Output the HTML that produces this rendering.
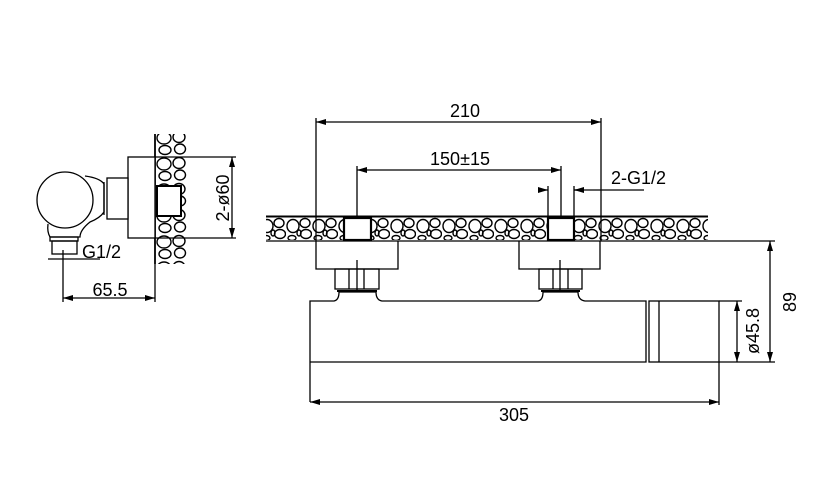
<!DOCTYPE html>
<html><head><meta charset="utf-8"><style>
html,body{margin:0;padding:0;background:#fff;}
svg{display:block;}
text{font-family:"Liberation Sans",sans-serif;font-size:18px;fill:#000;}
</style></head><body>
<svg width="820" height="499" viewBox="0 0 820 499" xmlns="http://www.w3.org/2000/svg">
<defs>
<pattern id="peb" x="0" y="217" width="26" height="23" patternUnits="userSpaceOnUse">
<rect width="26" height="23" fill="#fff"/>
<g fill="none" stroke="#000" stroke-width="1.4">
<ellipse cx="7" cy="9" rx="6" ry="6.5"/>
<ellipse cx="19" cy="6" rx="5" ry="4.5"/>
<ellipse cx="20" cy="17" rx="5.5" ry="4.5"/>
<ellipse cx="6" cy="21" rx="4" ry="2.5"/>
<ellipse cx="13" cy="16" rx="2" ry="3"/>
</g>
</pattern>
<pattern id="peb2" x="155" y="0" width="33" height="26" patternUnits="userSpaceOnUse">
<rect width="33" height="26" fill="#fff"/>
<g fill="none" stroke="#000" stroke-width="1.4">
<ellipse cx="9" cy="8" rx="7" ry="6"/>
<ellipse cx="24" cy="7" rx="6" ry="5.5"/>
<ellipse cx="10" cy="20" rx="6" ry="4.5"/>
<ellipse cx="25" cy="19" rx="5.5" ry="5"/>
</g>
</pattern>
<marker id="a" viewBox="0 0 10 6" refX="10" refY="3" markerWidth="10" markerHeight="6" orient="auto-start-reverse" markerUnits="userSpaceOnUse">
<path d="M0,0 L10,3 L0,6 Z" fill="#000"/>
</marker>
</defs>
<g stroke="#000" stroke-width="1.3" fill="none">
<rect x="266" y="217" width="442" height="23" fill="url(#peb)" stroke="none"/>
<line x1="266" y1="216.5" x2="708" y2="216.5" stroke-width="2"/>
<line x1="266" y1="241" x2="775" y2="241"/>
<rect x="344" y="218" width="27" height="22" fill="#fff" stroke-width="2.2"/>
<rect x="548" y="218" width="26" height="22" fill="#fff" stroke-width="2.2"/>
<path d="M316,241 V269 H398 V241"/>
<path d="M519,241 V269 H600 V241"/>
<rect x="335" y="269" width="44" height="20"/>
<line x1="349" y1="269" x2="349" y2="289"/><line x1="364" y1="269" x2="364" y2="289"/>
<line x1="357" y1="260" x2="357" y2="290"/>
<rect x="539" y="269" width="43" height="20"/>
<line x1="553" y1="269" x2="553" y2="289"/><line x1="568" y1="269" x2="568" y2="289"/>
<line x1="560" y1="260" x2="560" y2="290"/>
<line x1="337" y1="291" x2="377" y2="291" stroke-width="2"/>
<line x1="541" y1="291" x2="580" y2="291" stroke-width="2"/>
<path d="M310,402 V301 H334 Q339,300 339,292 H376 Q376,300 382,301 H538 Q543,300 543,292 H578 Q578,300 585,301 H646 V362 H310"/>
<rect x="649" y="301" width="70" height="61"/>
<line x1="659" y1="301" x2="659" y2="362"/>
<line x1="719" y1="362" x2="719" y2="405"/>
<line x1="719" y1="301" x2="742" y2="301"/>
<line x1="719" y1="362" x2="775" y2="362"/>
<line x1="310" y1="402" x2="719" y2="402" marker-start="url(#a)" marker-end="url(#a)"/>
<line x1="316" y1="118" x2="316" y2="241"/>
<line x1="601" y1="118" x2="601" y2="241"/>
<line x1="316" y1="122" x2="601" y2="122" marker-start="url(#a)" marker-end="url(#a)"/>
<line x1="357" y1="166" x2="357" y2="217"/>
<line x1="561" y1="166" x2="561" y2="217"/>
<line x1="357" y1="170" x2="561" y2="170" marker-start="url(#a)" marker-end="url(#a)"/>
<line x1="548" y1="186" x2="548" y2="217"/>
<line x1="574" y1="186" x2="574" y2="217"/>
<line x1="538" y1="190" x2="548" y2="190" marker-end="url(#a)"/>
<line x1="584" y1="190" x2="574" y2="190" marker-end="url(#a)"/>
<line x1="574" y1="190" x2="644" y2="190"/>
<line x1="770" y1="241" x2="770" y2="362" marker-start="url(#a)" marker-end="url(#a)"/>
<line x1="737" y1="301" x2="737" y2="362" marker-start="url(#a)" marker-end="url(#a)"/>
<rect x="155" y="134" width="33" height="130" fill="url(#peb2)" stroke="none"/>
<line x1="155" y1="134" x2="155" y2="264" stroke-width="1.8"/>
<rect x="157" y="186" width="24" height="30" fill="#fff" stroke-width="2"/>
<rect x="128" y="157" width="27" height="81" fill="#fff"/>
<rect x="107" y="178" width="21" height="41" fill="#fff"/>
<line x1="104" y1="182" x2="104" y2="215"/>
<path d="M85,176 Q100,178 104,184 V212 Q100,218 90,222 Q80,230 80,237 H50 Q47,232 48,224"/>
<circle cx="65" cy="200" r="28" fill="#fff"/>
<rect x="50" y="237" width="28" height="4"/>
<rect x="52" y="241" width="25" height="13"/>
<line x1="48" y1="259" x2="100" y2="259"/>
<line x1="63" y1="250" x2="63" y2="302"/>
<line x1="155" y1="264" x2="155" y2="302"/>
<line x1="63" y1="298" x2="155" y2="298" marker-start="url(#a)" marker-end="url(#a)"/>
<line x1="155" y1="157" x2="236" y2="157"/>
<line x1="155" y1="238" x2="236" y2="238"/>
<line x1="232" y1="157" x2="232" y2="238" marker-start="url(#a)" marker-end="url(#a)"/>
</g>
<text x="465" y="117" text-anchor="middle">210</text>
<text x="460" y="165" text-anchor="middle">150±15</text>
<text x="611" y="184">2-G1/2</text>
<text x="514" y="421" text-anchor="middle">305</text>
<text x="82" y="258">G1/2</text>
<text x="110" y="296" text-anchor="middle">65.5</text>
<text transform="translate(229,198) rotate(-90)" text-anchor="middle">2-ø60</text>
<text transform="translate(759,331) rotate(-90)" text-anchor="middle">ø45.8</text>
<text transform="translate(796,302) rotate(-90)" text-anchor="middle">89</text>
</svg>
</body></html>
